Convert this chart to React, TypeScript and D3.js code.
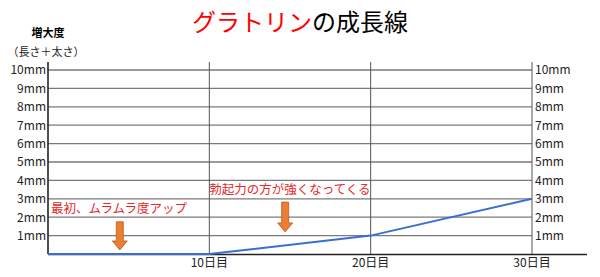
import React from "react";
import * as d3 from "d3";

const days = [0, 10, 20, 30];
const growth = [0, 0, 1, 3];
const yTicks = [1, 2, 3, 4, 5, 6, 7, 8, 9, 10];
const xTicks = [10, 20, 30];
const xTickLabels = ["10日目", "20日目", "30日目"];
const titleRed = "グラトリン";
const titleBlack = "の成長線";
const yTitle1 = "増大度";
const yTitle2 = "（長さ＋太さ）";
const noteTexts = ["最初、ムラムラ度アップ", "勃起力の方が強くなってくる"];
const noteDay = [4.4, 15.0];
const noteMm = [2.5, 3.5];
const arrowDay = [4.45, 14.7];
const arrowFrom = [1.75, 2.82];
const arrowTo = [0.22, 1.2];

const W = 600;
const H = 277;
const FONT = "'Noto Sans CJK JP', 'Noto Sans', sans-serif";

export default function App() {
  const x = d3.scaleLinear().domain([0, 30]).range([48, 532]);
  const y = d3.scaleLinear().domain([0, 10]).range([254, 70]);
  const line = d3
    .line<number>()
    .x((_, i) => x(days[i]))
    .y((d) => y(d));
  const gridTop = 62;

  return (
    <svg
      width={W}
      height={H}
      style={{ position: "fixed", left: 0, top: 0, background: "#fff" }}
      fontFamily={FONT}
    >
      <rect width={W} height={H} fill="#fff" />
      {/* title */}
      <text x={W / 2} y={31} textAnchor="middle" fontSize={24}>
        <tspan fill="#ff0000">{titleRed}</tspan>
        <tspan fill="#000">{titleBlack}</tspan>
      </text>
      <text x={48} y={37} textAnchor="middle" fontSize={11} fontWeight="bold" fill="#000">
        {yTitle1}
      </text>
      <text x={46} y={56} textAnchor="middle" fontSize={11} fill="#222">
        {yTitle2}
      </text>

      {/* horizontal grid */}
      {yTicks.map((t) => (
        <line key={"h" + t} x1={x(0)} x2={x(30)} y1={y(t)} y2={y(t)} stroke="#7a7a7a" strokeWidth={1.3} />
      ))}
      {/* vertical grid */}
      {xTicks.map((t) => (
        <line key={"v" + t} x1={x(t)} x2={x(t)} y1={gridTop} y2={y(0)} stroke="#555" strokeWidth={1} />
      ))}
      {/* left axis */}
      <line x1={x(0)} x2={x(0)} y1={gridTop} y2={y(0)} stroke="#222" strokeWidth={1.6} />
      {/* bottom axis */}
      <line x1={x(0)} x2={587} y1={y(0) + 0.5} y2={y(0) + 0.5} stroke="#222" strokeWidth={1.6} />

      {/* y labels */}
      {yTicks.map((t) => (
        <g key={"yl" + t}>
          <text x={46} y={y(t)} dy="0.36em" textAnchor="end" fontSize={12} fill="#222">
            {t}mm
          </text>
          <text x={535} y={y(t)} dy="0.36em" textAnchor="start" fontSize={12} fill="#222">
            {t}mm
          </text>
        </g>
      ))}
      {/* x labels */}
      {xTicks.map((t, i) => (
        <text key={"xl" + t} x={x(t)} y={263} dy="0.36em" textAnchor="middle" fontSize={12} fill="#222">
          {xTickLabels[i]}
        </text>
      ))}

      {/* data line */}
      <path d={line(growth) || ""} fill="none" stroke="#3a6fd0" strokeWidth={2} />

      {/* notes */}
      {noteTexts.map((t, i) => (
        <text key={"n" + i} x={x(noteDay[i])} y={y(noteMm[i])} dy="0.36em" textAnchor="middle" fontSize={12.5} fill="#e8262b">
          {t}
        </text>
      ))}
      {arrowDay.map((d, i) => {
        const cx = x(d);
        const y0 = y(arrowFrom[i]);
        const y1 = y(arrowTo[i]);
        const sw = 3.5;
        const hw = 7.5;
        const hh = 9;
        const p = [
          [cx - sw, y0],
          [cx + sw, y0],
          [cx + sw, y1 - hh],
          [cx + hw, y1 - hh],
          [cx, y1],
          [cx - hw, y1 - hh],
          [cx - sw, y1 - hh],
        ];
        return (
          <polygon
            key={"a" + i}
            points={p.map((q) => q.join(",")).join(" ")}
            fill="#ed7d31"
            stroke="#b75c1f"
            strokeWidth={0.8}
          />
        );
      })}
    </svg>
  );
}
